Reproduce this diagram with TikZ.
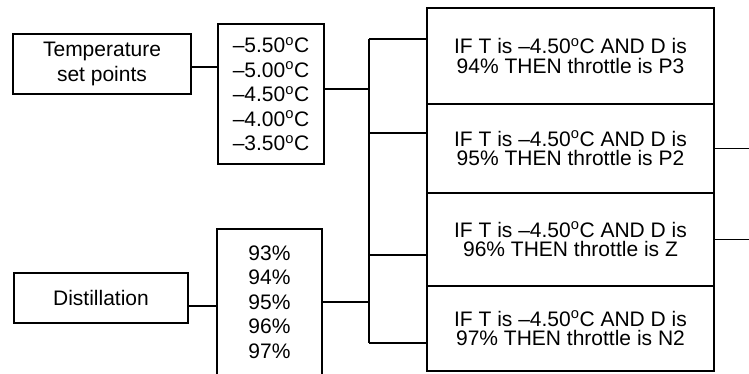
\documentclass[tikz,border=0pt]{standalone}
\usepackage{fontspec}
\setmainfont{Liberation Sans}
\newcommand{\degC}{\textsuperscript{o}C}

\begin{document}
\begin{tikzpicture}[x=1pt,y=-1pt,line width=1.5pt,
  box/.style={draw,rectangle,align=center,inner sep=0pt,font=\fontsize{21}{24.5}\selectfont},
  rule/.style={box,minimum width=287pt,font=\fontsize{21}{19.5}\selectfont}]
\useasboundingbox (0,0) rectangle (749,373);
\clip (0,0) rectangle (749,373);

\coordinate (b1) at (369,39);
\coordinate (b2) at (369,133);
\coordinate (b3) at (369,255);
\coordinate (b4) at (369,343);
\coordinate (t1) at (0,67);
\coordinate (t2) at (0,89);
\coordinate (d1) at (0,306);
\coordinate (d2) at (0,302);
\coordinate (e) at (749,0);

\node[box,minimum width=178pt,minimum height=60pt] (tset) at (102,64) {Temperature\\set points};
\node[box,minimum width=106pt,minimum height=140pt] (tval) at (271,94)
  {\textendash5.50\degC\\\textendash5.00\degC\\\textendash4.50\degC\\\textendash4.00\degC\\\textendash3.50\degC};
\node[box,minimum width=174pt,minimum height=50pt] (dist) at (101,298) {Distillation};
\node[box,minimum width=105pt,minimum height=146pt] (dval) at (269.5,302) {93\%\\94\%\\95\%\\96\%\\97\%};

\node[rule,minimum height=96pt] (r1) at (570.5,56) {IF T is \textendash4.50\degC{} AND D is\\94\% THEN throttle is P3};
\node[rule,minimum height=89pt] (r2) at (570.5,148.5) {IF T is \textendash4.50\degC{} AND D is\\95\% THEN throttle is P2};
\node[rule,minimum height=93pt] (r3) at (570.5,239.5) {IF T is \textendash4.50\degC{} AND D is\\96\% THEN throttle is Z};
\node[rule,minimum height=85pt] (r4) at (570.5,328.5) {IF T is \textendash4.50\degC{} AND D is\\97\% THEN throttle is N2};

\draw (b1) -- (b4) ; %Draw bus
\draw (tset.east |- t1) -- (tval.west |- t1) ;
\draw (tval.east |- t2) -- (b1 |- t2) ;
\draw (dist.east |- d1) -- (dval.west |- d1) ;
\draw (dval.east |- d2) -- (b1 |- d2) ;

\draw (b1) -- (b1 -| r1.west) ;
\draw (b2) -- (b2 -| r2.west) ;
\draw (b3) -- (b3 -| r3.west) ;
\draw (b4) -- (b4 -| r4.west) ;

\draw (r2.east) -- (r2.east -| e) ;
\draw (r3.east) -- (r3.east -| e) ;

\end{tikzpicture}
\end{document}
